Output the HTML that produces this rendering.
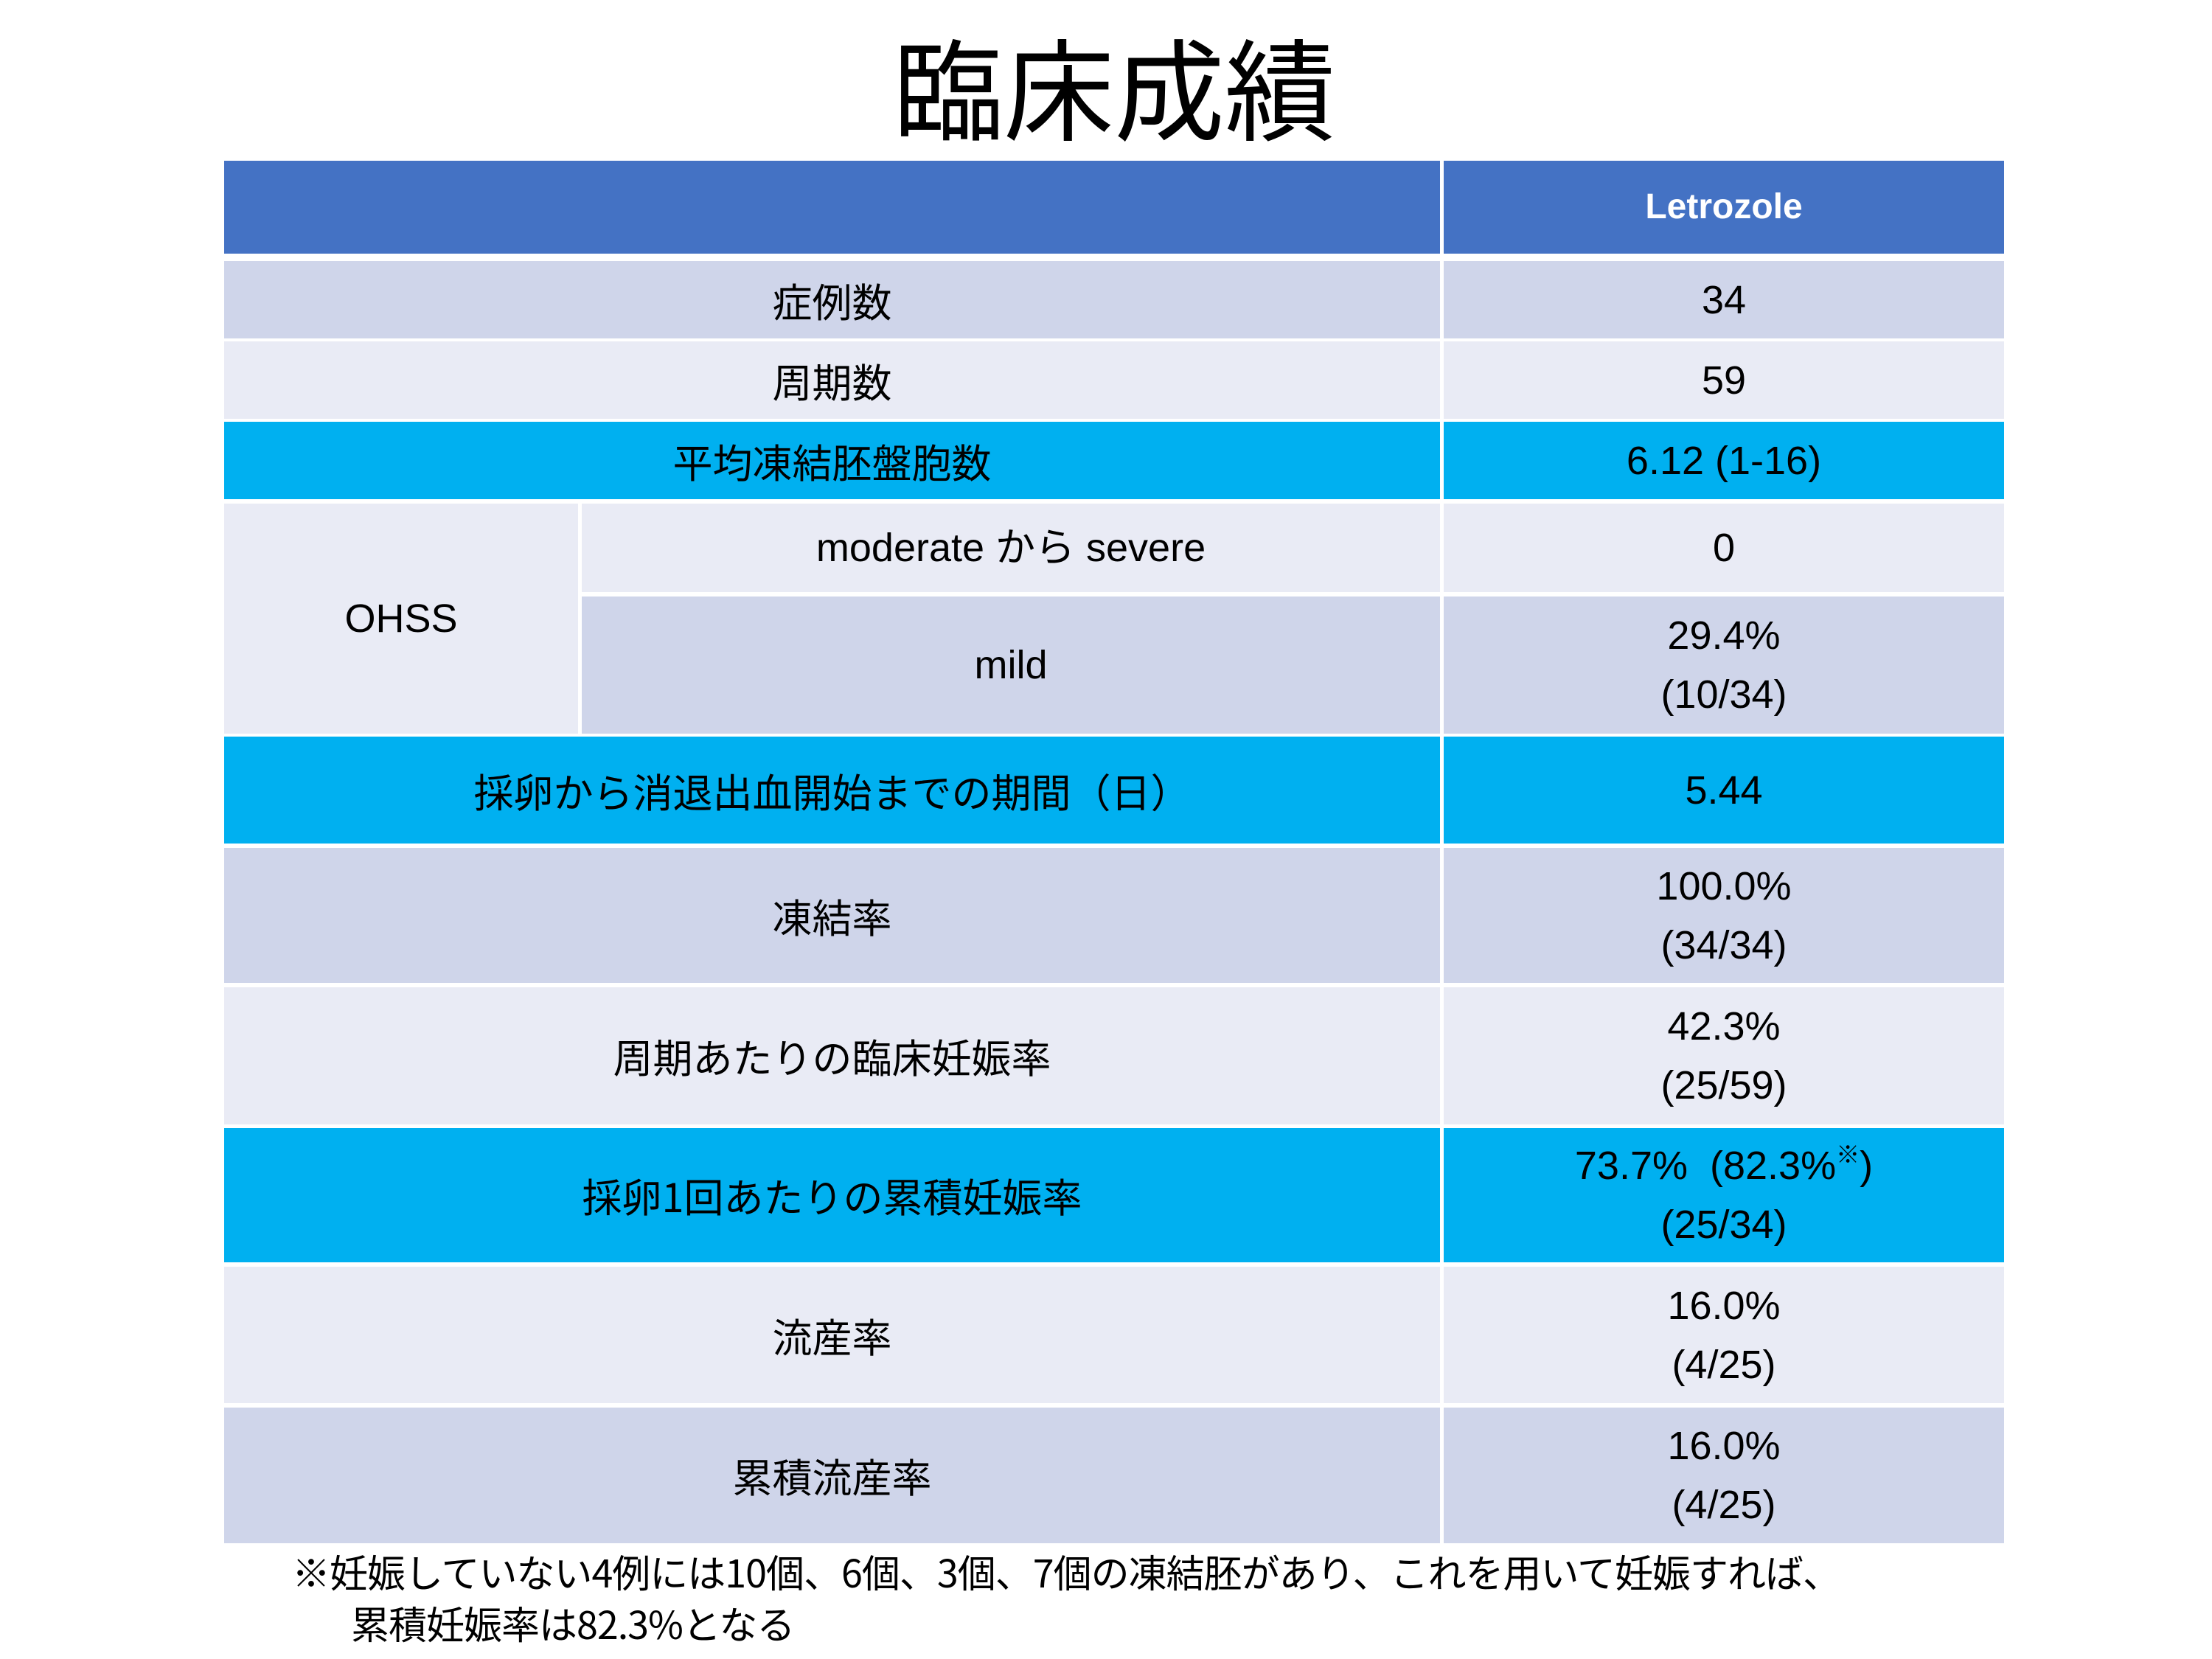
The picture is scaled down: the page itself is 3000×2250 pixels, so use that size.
<!DOCTYPE html>
<html><head><meta charset="utf-8"><style>
body{margin:0;width:3000px;height:2250px;background:#fff;position:relative;overflow:hidden;font-family:"Liberation Sans","Noto Sans CJK JP",sans-serif;color:#000}
.c{position:absolute;display:flex;align-items:center;justify-content:center;text-align:center;font-size:54px;line-height:80px;font-family:"Noto Sans CJK JP","Liberation Sans",sans-serif}
.n{font-family:"Liberation Sans","Noto Sans CJK JP",sans-serif;font-size:54px}
.d{background:#CFD5EA}.l{background:#E9EBF5}.b{background:#00B0F0}.h{background:#4472C4}
</style></head><body>
<div style="position:absolute;left:0;width:3022px;top:30px;text-align:center;font-size:150px;line-height:170px;font-family:'Noto Sans CJK JP',sans-serif;font-weight:400">臨床成績</div>

<div class="c h" style="left:304px;top:218px;width:1649px;height:126px"></div>
<div class="c h n" style="left:1958px;top:218px;width:760px;height:126px;color:#fff;font-weight:bold;font-size:48px"><span>Letrozole</span></div>

<div class="c d" style="left:304px;top:354px;width:1649px;height:105px"><span>症例数</span></div>
<div class="c d n" style="left:1958px;top:354px;width:760px;height:105px"><span>34</span></div>

<div class="c l" style="left:304px;top:463px;width:1649px;height:105px"><span>周期数</span></div>
<div class="c l n" style="left:1958px;top:463px;width:760px;height:105px"><span>59</span></div>

<div class="c b" style="left:304px;top:572px;width:1649px;height:105px"><span>平均凍結胚盤胞数</span></div>
<div class="c b n" style="left:1958px;top:572px;width:760px;height:105px"><span>6.12 (1-16)</span></div>

<div class="c l n" style="left:304px;top:683px;width:480px;height:312px"><span>OHSS</span></div>
<div class="c l n" style="left:789px;top:683px;width:1164px;height:120px"><span>moderate から severe</span></div>
<div class="c l n" style="left:1958px;top:683px;width:760px;height:120px"><span>0</span></div>
<div class="c d n" style="left:789px;top:809px;width:1164px;height:186px"><span>mild</span></div>
<div class="c d n" style="left:1958px;top:809px;width:760px;height:186px"><span>29.4%<br>(10/34)</span></div>

<div class="c b" style="left:304px;top:999px;width:1649px;height:145px"><span>採卵から消退出血開始までの期間（日）</span></div>
<div class="c b n" style="left:1958px;top:999px;width:760px;height:145px"><span>5.44</span></div>

<div class="c d" style="left:304px;top:1150px;width:1649px;height:183px"><span>凍結率</span></div>
<div class="c d n" style="left:1958px;top:1150px;width:760px;height:183px"><span>100.0%<br>(34/34)</span></div>

<div class="c l" style="left:304px;top:1339px;width:1649px;height:186px"><span>周期あたりの臨床妊娠率</span></div>
<div class="c l n" style="left:1958px;top:1339px;width:760px;height:186px"><span>42.3%<br>(25/59)</span></div>

<div class="c b" style="left:304px;top:1530px;width:1649px;height:182px"><span>採卵1回あたりの累積妊娠率</span></div>
<div class="c b n" style="left:1958px;top:1530px;width:760px;height:182px"><span>73.7%&nbsp; (82.3%<sup style="font-size:32px;line-height:0;vertical-align:22px">※</sup>)<br>(25/34)</span></div>

<div class="c l" style="left:304px;top:1718px;width:1649px;height:185px"><span>流産率</span></div>
<div class="c l n" style="left:1958px;top:1718px;width:760px;height:185px"><span>16.0%<br>(4/25)</span></div>

<div class="c d" style="left:304px;top:1909px;width:1649px;height:184px"><span>累積流産率</span></div>
<div class="c d n" style="left:1958px;top:1909px;width:760px;height:184px"><span>16.0%<br>(4/25)</span></div>

<div style="position:absolute;left:396px;top:2096px;font-size:52px;line-height:70px;font-family:'Noto Sans CJK JP',sans-serif;white-space:nowrap;letter-spacing:-1px">※妊娠していない4例には10個、6個、3個、7個の凍結胚があり、これを用いて妊娠すれば、<br><span style="padding-left:80px">累積妊娠率は82.3%となる</span></div>
</body></html>
